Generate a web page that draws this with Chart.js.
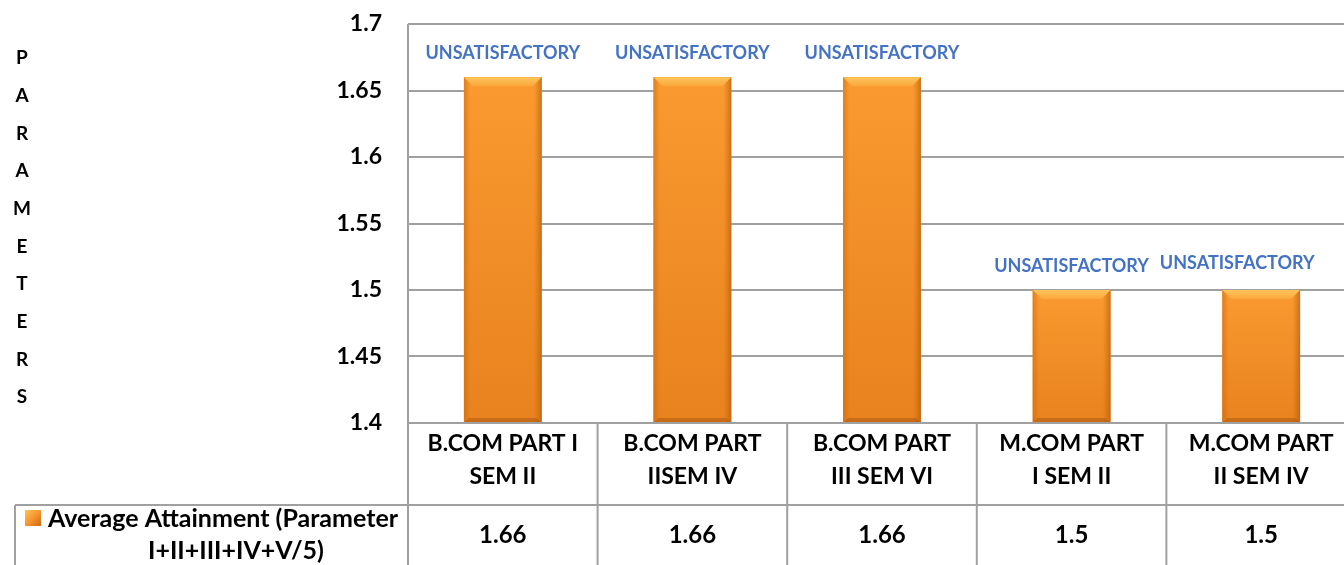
<!DOCTYPE html>
<html>
<head>
<meta charset="utf-8">
<script src="https://cdn.jsdelivr.net/npm/chart.js@4.4.1/dist/chart.umd.min.js"></script>
<style>
  html, body { margin: 0; padding: 0; background: #fff; overflow: hidden; }
  #wrap { width: 1362px; height: 565px; }
</style>
</head>
<body>
<div id="wrap"><canvas id="chart"></canvas></div>
<script>
const categories = [
  ['B.COM PART I', 'SEM II'],
  ['B.COM PART', 'IISEM IV'],
  ['B.COM PART', 'III SEM VI'],
  ['M.COM PART', 'I SEM II'],
  ['M.COM PART', 'II SEM IV']
];
const attainment = [1.66, 1.66, 1.66, 1.5, 1.5];
const remarks = ['UNSATISFACTORY', 'UNSATISFACTORY', 'UNSATISFACTORY', 'UNSATISFACTORY', 'UNSATISFACTORY'];
const seriesName = ['Average Attainment (Parameter', 'I+II+III+IV+V/5)'];
const axisTitle = 'PARAMETERS';
const yMin = 1.4, yMax = 1.7, yStep = 0.05;

const FONT = 'Lato, "Open Sans", sans-serif';
const GRID = '#a0a0a0';

// bevel look for the bars, drawn over each bar element
const barBevel = {
  id: 'barBevel',
  afterDatasetsDraw(chart){
    const c = chart.ctx;
    const a = chart.chartArea;
    chart.getDatasetMeta(0).data.forEach(el => {
      const l = el.x - el.width/2, r = el.x + el.width/2;
      const t = el.y, b = Math.min(el.base, a.bottom);
      c.save();
      let g = c.createLinearGradient(0, t, 0, b);
      g.addColorStop(0, '#fa9a30');
      g.addColorStop(1, '#e8821e');
      c.fillStyle = g;
      c.fillRect(l, t, r-l, b-t);
      // side shading
      g = c.createLinearGradient(l, 0, r, 0);
      g.addColorStop(0, 'rgba(190,95,10,0.45)');
      g.addColorStop(0.08, 'rgba(190,95,10,0)');
      g.addColorStop(0.9, 'rgba(190,95,10,0)');
      g.addColorStop(1, 'rgba(160,80,10,0.55)');
      c.fillStyle = g;
      c.fillRect(l, t, r-l, b-t);
      // top bevel
      const bv = 9;
      c.beginPath();
      c.moveTo(l, t); c.lineTo(r, t); c.lineTo(r-bv, t+bv); c.lineTo(l+bv, t+bv); c.closePath();
      g = c.createLinearGradient(0, t, 0, t+bv);
      g.addColorStop(0, '#fdc45a');
      g.addColorStop(1, '#fba83c');
      c.fillStyle = g;
      c.fill();
      // bottom edge
      c.beginPath();
      c.moveTo(l, b); c.lineTo(r, b); c.lineTo(r-5, b-5); c.lineTo(l+5, b-5); c.closePath();
      c.fillStyle = 'rgba(170,85,15,0.5)';
      c.fill();
      c.restore();
    });
  }
};

// value remarks, axis title and the data table under the plot
const extras = {
  id: 'extras',
  afterDraw(chart){
    const c = chart.ctx;
    const a = chart.chartArea;
    const x = chart.scales.x;
    const meta = chart.getDatasetMeta(0);
    c.save();

    // remarks above bars
    c.font = 'bold 18px ' + FONT;
    c.fillStyle = '#4472c4';
    c.textAlign = 'center';
    c.textBaseline = 'middle';
    meta.data.forEach((el, i) => {
      const last = i === meta.data.length - 1;
      c.fillText(remarks[i], el.x - (last ? 24 : 0), el.y - 24 - (last ? 3 : 0));
    });

    // vertical axis title, one letter per line
    c.font = 'bold 19px ' + FONT;
    c.fillStyle = '#000';
    const letters = axisTitle.split('');
    letters.forEach((ch, i) => c.fillText(ch, 22, 58 + i * 37.7));

    // table lines
    const step = (a.right - a.left) / categories.length;
    const headBottom = 505;
    c.strokeStyle = GRID;
    c.lineWidth = 2;
    c.beginPath();
    c.moveTo(a.left, a.top); c.lineTo(a.left, chart.height);
    for (let i = 1; i <= categories.length; i++) {
      const px = a.left + i * step;
      c.moveTo(px, a.bottom); c.lineTo(px, chart.height);
    }
    c.moveTo(a.left, a.bottom); c.lineTo(a.right, a.bottom);
    c.moveTo(15, headBottom); c.lineTo(a.right, headBottom);
    c.moveTo(15, headBottom); c.lineTo(15, chart.height);
    c.stroke();

    // values row
    c.font = 'bold 24px ' + FONT;
    c.fillStyle = '#000';
    attainment.forEach((v, i) => c.fillText(String(v), x.getPixelForValue(i), 535));

    // series name with legend key
    c.font = 'bold 25px ' + FONT;
    c.fillText(seriesName[0], 223, 519);
    c.fillText(seriesName[1], 236, 551);
    const kg = c.createLinearGradient(25, 510, 41, 526);
    kg.addColorStop(0, '#fdc45a');
    kg.addColorStop(0.5, '#f7952e');
    kg.addColorStop(1, '#c86a15');
    c.fillStyle = kg;
    c.fillRect(25, 510, 16, 16);
    c.restore();
  }
};

new Chart(document.getElementById('chart'), {
  type: 'bar',
  data: {
    labels: categories,
    datasets: [{
      label: seriesName.join(' '),
      data: attainment,
      backgroundColor: '#f7952e',
      borderWidth: 0,
      categoryPercentage: 1,
      barPercentage: 0.41
    }]
  },
  options: {
    responsive: true,
    maintainAspectRatio: false,
    animation: false,
    layout: { padding: { top: 24, right: 6, left: 0, bottom: 0 } },
    plugins: { legend: { display: false }, tooltip: { enabled: false } },
    scales: {
      x: {
        grid: { display: false, drawTicks: false },
        border: { display: false },
        ticks: {
          color: '#000',
          font: { family: FONT, size: 23, weight: 'bold', lineHeight: 1.45 },
          padding: 4,
          maxRotation: 0,
          autoSkip: false
        },
        afterFit: s => { s.height = 142; s.paddingLeft = 0; s.paddingRight = 0; }
      },
      y: {
        min: yMin,
        max: yMax,
        grid: { color: GRID, lineWidth: 2, drawTicks: false },
        border: { display: false },
        ticks: {
          stepSize: yStep,
          padding: 26,
          color: '#000',
          font: { family: FONT, size: 23, weight: 'bold' },
          callback: v => String(+v.toFixed(2))
        },
        afterFit: s => { s.width = 408; s.paddingTop = 0; s.paddingBottom = 0; }
      }
    }
  },
  plugins: [barBevel, extras]
});
</script>
</body>
</html>
